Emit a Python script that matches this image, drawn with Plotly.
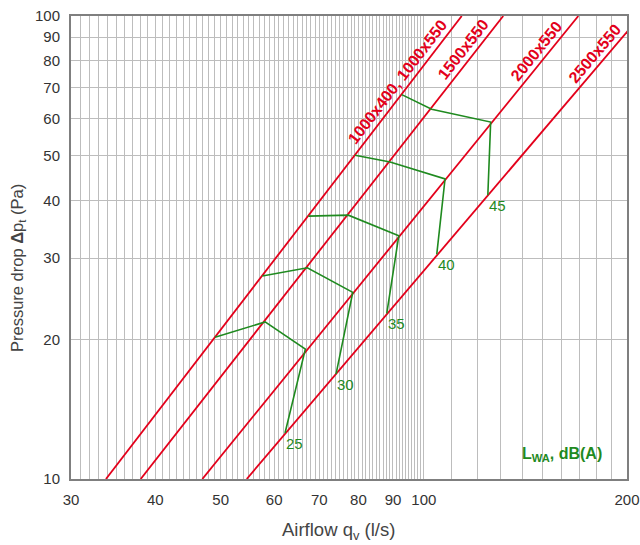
import numpy as np
import plotly.graph_objects as go

# ---- Data ----
# Red duct-size lines: airflow (l/s) at 10 Pa and at 100 Pa (straight lines on log-log axes)
sizes = ["1000x400, 1000x550", "1500x550", "2000x550", "2500x550"]
q_at_10pa = [33.8, 38.05, 46.96, 54.64]
q_at_100pa = [113.8, 131.1, 169.4, 209.4]
label_dp = [69.8, 81.8, 81.2, 80.4]        # pressure where each size label sits
label_angle = [-52.5, -52.0, -51.0, -49.7]

# Green sound power level contours LWA dB(A); vertices from the 2500x550 line to the 1000x550 line
lwa_levels = ["25", "30", "35", "40", "45"]
lwa_q = [
    [62.27, 66.74, 58.18, 49.04],
    [74.11, 78.46, 67.20, 57.64],
    [88.12, 91.80, 77.29, 67.43],
    [104.5, 107.5, 89.11, 79.08],
    [124.4, 125.6, 102.7, 92.74],
]
lwa_dp = [
    [12.57, 19.07, 21.84, 20.24],
    [16.84, 25.30, 28.59, 27.44],
    [22.80, 33.51, 37.14, 36.96],
    [30.56, 44.48, 48.40, 50.03],
    [41.03, 59.02, 62.87, 67.64],
]

# Axis ticks
x_labels = [30, 40, 50, 60, 70, 80, 90, 100, 200]
x_grid = list(range(30, 100)) + list(range(100, 201, 10))
y_grid = list(range(10, 101, 10))

RED = "#e3001b"
GREEN = "#1f8a1f"
FONT = "Liberation Sans, Arial, sans-serif"

fig = go.Figure()

for i, name in enumerate(sizes):
    fig.add_trace(go.Scatter(
        x=[q_at_10pa[i], q_at_100pa[i]], y=[10, 100], mode="lines",
        line=dict(color=RED, width=1.8), hoverinfo="skip", showlegend=False))
    n = np.log10(q_at_100pa[i] / q_at_10pa[i])
    ql = q_at_10pa[i] * (label_dp[i] / 10) ** n
    fig.add_annotation(
        x=np.log10(ql), y=np.log10(label_dp[i]), text=f"<b>{name}</b>",
        showarrow=False, textangle=label_angle[i],
        xshift=-8.3, yshift=6.5,
        font=dict(family=FONT, size=16, color=RED))

for i, lvl in enumerate(lwa_levels):
    fig.add_trace(go.Scatter(
        x=lwa_q[i], y=lwa_dp[i], mode="lines",
        line=dict(color=GREEN, width=1.6), hoverinfo="skip", showlegend=False))
    fig.add_annotation(
        x=np.log10(lwa_q[i][0]), y=np.log10(lwa_dp[i][0]), text=lvl,
        showarrow=False, xanchor="left", yanchor="top", xshift=-1, yshift=0,
        font=dict(family=FONT, size=15, color=GREEN))

fig.add_annotation(
    x=1, y=0, xref="paper", yref="paper", xanchor="right", yanchor="bottom",
    xshift=-23, yshift=13, showarrow=False,
    text="<b>L<sub>WA</sub>, dB(A)</b>",
    font=dict(family=FONT, size=16, color=GREEN))

# Axis titles (placed as in the reference, slightly off-centre)
fig.add_annotation(
    x=0.482, y=0, xref="paper", yref="paper", xanchor="center", yanchor="middle",
    yshift=-52, showarrow=False, text="Airflow q<sub>v</sub> (l/s)",
    font=dict(family=FONT, size=18.5, color="#444444"))
fig.add_annotation(
    x=0, y=0.4557, xref="paper", yref="paper", xanchor="center", yanchor="middle",
    xshift=-53, showarrow=False, textangle=-90,
    text="Pressure drop <b>Δ</b>p<sub>t</sub> (Pa)",
    font=dict(family=FONT, size=16.5, color="#444444"))

fig.update_xaxes(
    type="log", range=[np.log10(30), np.log10(200)],
    tickmode="array", tickvals=x_labels, ticktext=[str(v) for v in x_labels],
    showgrid=True, gridcolor="#bdbdbd", gridwidth=1,
    minor=dict(tickmode="array", tickvals=x_grid, showgrid=True,
               gridcolor="#bdbdbd", gridwidth=1, ticks=""),
    showline=True, linecolor="#7f7f7f", linewidth=2, mirror=True,
    ticks="", ticklabelstandoff=6, zeroline=False, automargin=False,
    tickfont=dict(family=FONT, size=15, color="#333333"))

fig.update_yaxes(
    type="log", range=[1, 2],
    tickmode="array", tickvals=y_grid, ticktext=[str(v) for v in y_grid],
    showgrid=True, gridcolor="#bdbdbd", gridwidth=1,
    showline=True, linecolor="#7f7f7f", linewidth=2, mirror=True,
    ticks="", ticklabelstandoff=6, zeroline=False, automargin=False,
    tickfont=dict(family=FONT, size=15, color="#333333"))

fig.update_layout(
    width=640, height=545,
    margin=dict(l=71, r=13, t=16, b=66),
    plot_bgcolor="white", paper_bgcolor="white",
    font=dict(family=FONT),
)

fig.write_html("out.html", config={"displayModeBar": False},
               post_script="document.body.style.margin='0';document.body.style.overflow='hidden';")
